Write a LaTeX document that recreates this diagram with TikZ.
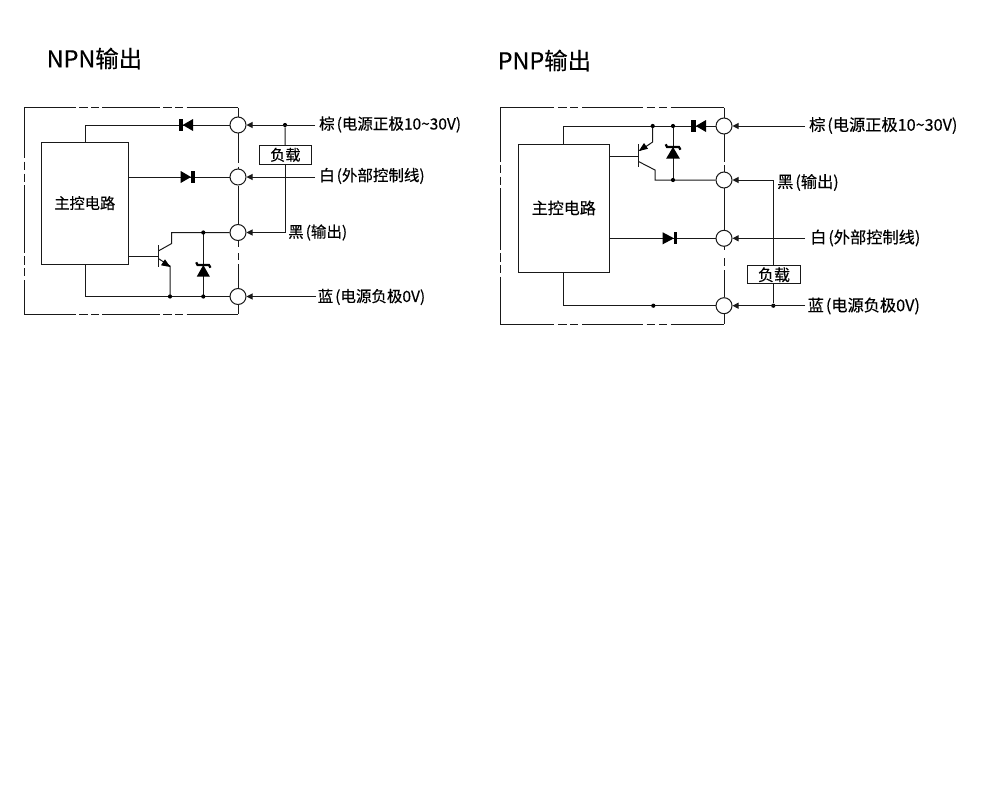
\documentclass[tikz,border=0pt]{standalone}
\usepackage{fontspec}
\setmainfont[FakeBold=0.25]{Noto Sans CJK SC}
\usetikzlibrary{arrows.meta}
\tikzset{
  wire/.style={line width=1pt,draw=black!90},
  frame/.style={line width=1pt,draw=black!90},
  ctl/.style={draw=black!90,line width=1pt,fill=white,inner sep=0pt},
  term/.style={circle,draw=black!90,line width=1pt,fill=white,minimum size=16pt,inner sep=0pt},
  jn/.style={circle,fill=black,minimum size=4.2pt,inner sep=0pt},
  lbl/.style={anchor=west,inner sep=0pt,text=black},
  tip/.style={-{Triangle[length=6pt,width=6pt]}},
  dtri/.style={fill=black,draw=none},
}
\newcommand{\gp}{\hspace{2pt}}
\begin{document}
\begin{tikzpicture}[x=1pt,y=-1pt]
\useasboundingbox (0,0) rectangle (1000,800);
\fill[white] (0,0) rectangle (1000,800);
% titles
\node[lbl,font=\fontsize{23.4}{24}\selectfont] (t1) at (46.5,58.5) {NPN输出};
\node[lbl,font=\fontsize{23.4}{24}\selectfont] (t2) at (497.5,60.5) {PNP输出};
% ---------- NPN
\draw[frame] (238,107.5) -- (238,117) (238,133) -- (238,163) (238,166.5) -- (238,169) (238,186) -- (238,224) (238,241) -- (238,247) (238,253) -- (238,260) (238,264) -- (238,288) (238,305) -- (238,314);
\foreach \y in {107.5,314}{
\draw[frame] (24.3,\y) -- (76,\y) (79.3,\y) -- (87.7,\y) (91,\y) -- (99,\y) (102.3,\y) -- (160,\y) (163.3,\y) -- (171.7,\y) (175,\y) -- (183.3,\y) (186.7,\y) -- (238,\y);}
\draw[frame] (24.3,107.5) -- (24.3,158) (24.3,161.5) -- (24.3,170) (24.3,173.5) -- (24.3,181.5) (24.3,185) -- (24.3,253) (24.3,256) -- (24.3,265) (24.3,268) -- (24.3,276) (24.3,280) -- (24.3,314);
\node[ctl,minimum width=87pt,minimum height=122.4pt,font=\fontsize{15.2}{15}\selectfont] (m1) at (84.8,203.5) {\raisebox{2pt}{主控电路}};
\foreach \n/\y in {a/125,b/177,c/232.5,d/296.5}{\node[term] (\n1) at (238,\y) {};}
\node[ctl,minimum width=51.5pt,minimum height=18.4pt,font=\fontsize{15.2}{15}\selectfont] (l1) at (285.3,154.8) {\raisebox{-1pt}{负载}};
\coordinate (ja1) at (285,125);
\draw[wire] (85,142.3) |- (a1);
\draw[wire] (m1.east |- b1) -- (b1);
\draw[wire] (85,264.7) |- (d1);
\draw[wire] (128.3,256) -- (158.3,256);
\draw[wire] (158.3,245) -- (158.3,267);
\draw[wire] (158.3,251) -- (171.7,243.5) -- (171.7,232.5) -- (c1);
\draw[wire] (158.3,258.5) -- (170,266) -- (170,296.5);
\fill (170.3,267) -- (161,265.3) -- (165,259.3) -- cycle;
\draw[wire] (203.3,232.5) -- (203.3,296.5);
% diodes
\fill[dtri] (182.7,125) -- (193,119) -- (193,131) -- cycle;
\fill (179,119) rectangle (182.7,131);
\fill[dtri] (191,177) -- (180.7,171) -- (180.7,183) -- cycle;
\fill (191,171) rectangle (194.7,183);
\fill[dtri] (203.3,265) -- (209.8,276.5) -- (196.8,276.5) -- cycle;
\draw[line width=2.2pt] (196.2,262.3) -- (197.5,265) -- (209,265) -- (210.4,267.7);
\node[jn] (j1) at (ja1) {};
\node[jn] (j2) at (203.3,232.5) {};
\node[jn] (j3) at (170,296.5) {};
\node[jn] (j4) at (203.3,296.5) {};
% field
\coordinate (ea1) at (315,125);
\coordinate (eb1) at (315,177);
\coordinate (ed1) at (316,296.5);
\draw[wire,tip] (ea1) -- (a1);
\draw[wire,tip] (eb1) -- (b1);
\draw[wire,tip] (ed1) -- (d1);
\draw[wire] (j1) -- (l1);
\draw[wire,tip] (l1) |- (c1);
\node[lbl,font=\fontsize{15.5}{15}\selectfont] at (319,124.5) {棕\gp(电源正极10\char`~30V)};
\node[lbl,font=\fontsize{15.5}{15}\selectfont] at (319,176) {白\gp(外部控制线)};
\node[lbl,font=\fontsize{15.5}{15}\selectfont] at (288,232.5) {黑\gp(输出)};
\node[lbl,font=\fontsize{15.5}{15}\selectfont] at (317.5,297) {蓝\gp(电源负极0V)};
% ---------- PNP
\draw[frame] (724,107.7) -- (724,118) (724,134) -- (724,161.7) (724,165) -- (724,172) (724,188) -- (724,230) (724,246) -- (724,250) (724,258) -- (724,266) (724,270) -- (724,297) (724,314) -- (724,324.3);
\foreach \y in {107.7,324.3}{
\draw[frame] (500.3,\y) -- (554,\y) (558,\y) -- (566.7,\y) (570,\y) -- (578.3,\y) (582.3,\y) -- (642.7,\y) (646.7,\y) -- (655,\y) (659,\y) -- (667.3,\y) (670.7,\y) -- (724,\y);}
\draw[frame] (500.3,107.7) -- (500.3,161.7) (500.3,165) -- (500.3,173) (500.3,176.7) -- (500.3,185) (500.3,188) -- (500.3,250) (500.3,253.3) -- (500.3,262) (500.3,265) -- (500.3,273) (500.3,276.7) -- (500.3,324.3);
\node[ctl,minimum width=91pt,minimum height=128pt,font=\fontsize{16}{16}\selectfont] (m2) at (563.8,208.3) {\raisebox{2pt}{主控电路}};
\node[term] (a2) at (724,126) {};
\node[term] (b2) at (724,180) {};
\node[term] (c2) at (724,238.3) {};
\node[term] (d2) at (724,305.7) {};
\node[ctl,minimum width=53.4pt,minimum height=18.3pt,font=\fontsize{16}{16}\selectfont] (l2) at (774,274.8) {\raisebox{-0.7pt}{负载}};
\draw[wire] (563.7,144.3) |- (a2);
\draw[wire] (563.7,272.3) |- (d2);
\draw[wire] (m2.east |- c2) -- (c2);
\draw[wire] (609.3,156) -- (638.5,156);
\draw[wire] (638.5,144) -- (638.5,167.3);
\draw[wire] (652.7,126) -- (652.7,142) -- (640,150.5);
\fill (638.8,151) -- (644,143) -- (648,148.8) -- cycle;
\draw[wire] (638.5,161.5) -- (655,170) -- (655,180) -- (b2);
\draw[wire] (673,126) -- (673,180);
\fill[dtri] (695.7,126) -- (706,120) -- (706,132) -- cycle;
\fill (691.3,120) rectangle (695.7,132);
\fill[dtri] (674,238.3) -- (662.7,232.3) -- (662.7,244.3) -- cycle;
\fill (674,232.3) rectangle (677.3,244.3);
\fill[dtri] (673,147) -- (679.8,158.5) -- (666.2,158.5) -- cycle;
\draw[line width=2.2pt] (665.7,144.3) -- (667,147) -- (679,147) -- (680.4,149.7);
\node[jn] (j5) at (652.7,126) {};
\node[jn] (j6) at (673,126) {};
\node[jn] (j7) at (673,180) {};
\node[jn] (j8) at (653.3,305.7) {};
\node[jn] (j9) at (773.3,305.7) {};
\coordinate (ea2) at (805,126);
\coordinate (ec2) at (805,238.3);
\coordinate (ed2) at (805,305.7);
\draw[wire,tip] (ea2) -- (a2);
\draw[wire,tip] (ec2) -- (c2);
\draw[wire,tip] (ed2) -- (d2);
\draw[wire] (j9) -- (j9 |- l2.south);
\draw[wire,tip] (j9 |- l2.north) |- (b2);
\node[lbl,font=\fontsize{16.2}{16}\selectfont] at (809,125.5) {棕\gp(电源正极10\char`~30V)};
\node[lbl,font=\fontsize{16.2}{16}\selectfont] at (777,182.5) {黑\gp(输出)};
\node[lbl,font=\fontsize{16.2}{16}\selectfont] at (810,238) {白\gp(外部控制线)};
\node[lbl,font=\fontsize{16.2}{16}\selectfont] at (807.5,306) {蓝\gp(电源负极0V)};
\end{tikzpicture}
\end{document}
